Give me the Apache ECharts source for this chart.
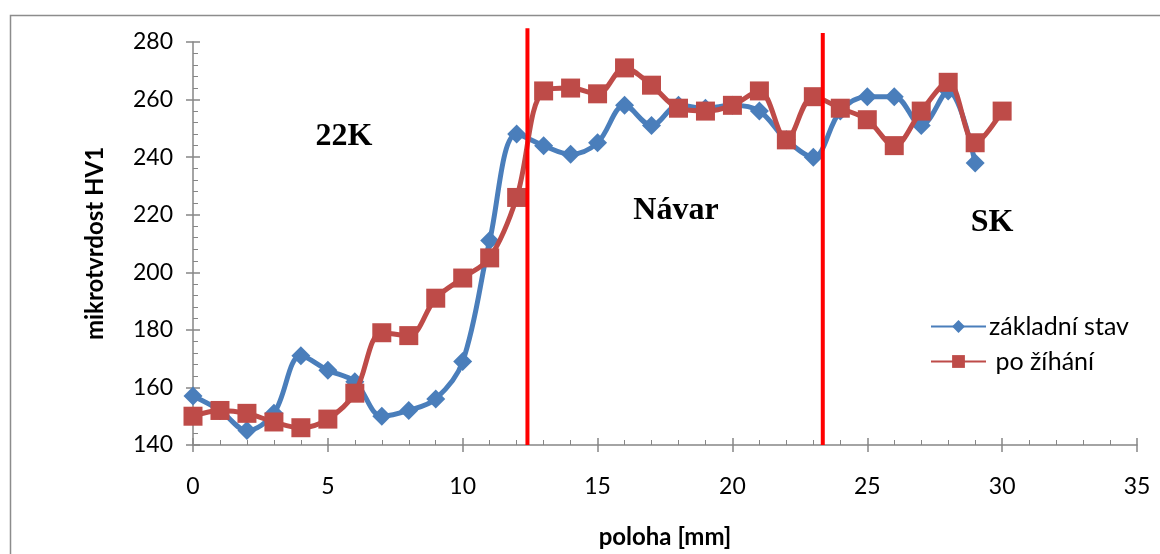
<!DOCTYPE html>
<html><head><meta charset="utf-8">
<script src="https://cdn.jsdelivr.net/npm/echarts@6/dist/echarts.min.js"></script>
<style>html,body{margin:0;padding:0;background:#fff}#c{width:1160px;height:554px}</style>
</head><body><div id="c"></div>
<script>
const xBase = [0,1,2,3,4,5,6,7,8,9,10,11,12,13,14,15,16,17,18,19,20,21,22,23,24,25,26,27,28,29];
const yBase = [157,152,145,151,171,166,162,150,152,156,169,211,248,244,241,245,258,251,258,257,258,256,246,240,256,261,261,251,263,238];
const xAnn = [0,1,2,3,4,5,6,7,8,9,10,11,12,13,14,15,16,17,18,19,20,21,22,23,24,25,26,27,28,29,30];
const yAnn = [150,152,151,148,146,149,158,179,178,191,198,205,226,263,264,262,271,265,257,256,258,263,246,261,257,253,244,256,266,245,256];
const boundaries = [12.4, 23.35];
const boundaryTops = [284.8, 283.1];
const seriesNames = ['základní stav', ' po žíhání'];
const regionLabels = ['22K', 'Návar', 'SK'];

const font = 'Lato, "Open Sans", sans-serif';
const serif = 'bold 32px "Liberation Serif", serif';
const chart = echarts.init(document.getElementById('c'));
const axisGray = '#868686';
chart.setOption({
  animation:false,
  grid: {left:193, right:23, top:42, bottom:105},
  graphic: [
    {type:'rect', shape:{x:10.5,y:15.5,width:1300,height:700}, style:{fill:'none', stroke:'#8c8c8c', lineWidth:1.5}, silent:true, z:-1},
    {type:'text', x:344, y:137, style:{text:regionLabels[0], font:serif, fill:'#000', textAlign:'center', textVerticalAlign:'middle'}},
    {type:'text', x:676, y:211, style:{text:regionLabels[1], font:serif, fill:'#000', textAlign:'center', textVerticalAlign:'middle'}},
    {type:'text', x:992, y:223, style:{text:regionLabels[2], font:serif, fill:'#000', textAlign:'center', textVerticalAlign:'middle'}}
  ],
  legend: {
    orient:'vertical', left:925, top:309, itemWidth:55, itemHeight:16, itemGap:10,
    textStyle:{fontFamily:font, fontSize:25, color:'#000', padding:[0,0,0,-2]},
    data: seriesNames
  },
  xAxis: [{
    type:'value', min:0, max:35, interval:5,
    name:'poloha [mm]', nameLocation:'middle', nameGap:80,
    nameTextStyle:{fontFamily:font, fontSize:24, fontWeight:'bold', color:'#000'},
    axisLine:{lineStyle:{color:axisGray, width:1.5}},
    axisTick:{show:true, inside:false, length:7, lineStyle:{color:axisGray, width:1.5}},
    axisLabel:{margin:30, fontFamily:font, fontSize:23, color:'#000'},
    splitLine:{show:false}
  },{
    type:'value', min:0, max:35, interval:5, position:'bottom',
    axisLine:{show:false},
    axisTick:{show:true, inside:true, length:7, lineStyle:{color:axisGray, width:1.5}},
    minorTick:{show:true, splitNumber:5, length:5, lineStyle:{color:axisGray, width:1}},
    axisLabel:{show:false}, splitLine:{show:false}
  }],
  yAxis: [{
    type:'value', min:140, max:280, interval:20,
    name:'mikrotvrdost HV1', nameLocation:'middle', nameGap:86,
    nameTextStyle:{fontFamily:font, fontSize:24, fontWeight:'bold', color:'#000'},
    axisLine:{show:true, lineStyle:{color:axisGray, width:1.5}},
    axisTick:{show:true, inside:false, length:7, lineStyle:{color:axisGray, width:1.5}},
    axisLabel:{margin:20, fontFamily:font, fontSize:23, color:'#000'},
    splitLine:{show:false}
  },{
    type:'value', min:140, max:280, interval:20, position:'left',
    axisLine:{show:false},
    axisTick:{show:true, inside:true, length:7, lineStyle:{color:axisGray, width:1.5}},
    minorTick:{show:true, splitNumber:5, length:5, lineStyle:{color:axisGray, width:1}},
    axisLabel:{show:false}, splitLine:{show:false}
  }],
  series: [
    {
      name:seriesNames[0], type:'line', smooth:0.35,
      data: xBase.map((x,i)=>[x,yBase[i]]),
      symbol:'diamond', symbolSize:19,
      lineStyle:{color:'#4a7ebb', width:5},
      itemStyle:{color:'#4a7ebb'}, z:3
    },
    {
      name:seriesNames[1], type:'line', smooth:0.35,
      data: xAnn.map((x,i)=>[x,yAnn[i]]),
      symbol:'rect', symbolSize:19,
      lineStyle:{color:'#be4b48', width:5},
      itemStyle:{color:'#be4b48'}, z:4
    },
    {
      type:'custom', clip:false, silent:true, z:6,
      data: boundaries.map((b,i)=>[b,140,boundaryTops[i]]),
      encode:{x:0, y:[1,2]},
      renderItem: function(params, api){
        const p0 = api.coord([api.value(0), api.value(1)]);
        const p1 = api.coord([api.value(0), api.value(2)]);
        return {type:'line', shape:{x1:p0[0], y1:p0[1], x2:p1[0], y2:p1[1]},
                style:{stroke:'#ff0000', lineWidth:4}};
      }
    }
  ]
});
</script></body></html>
